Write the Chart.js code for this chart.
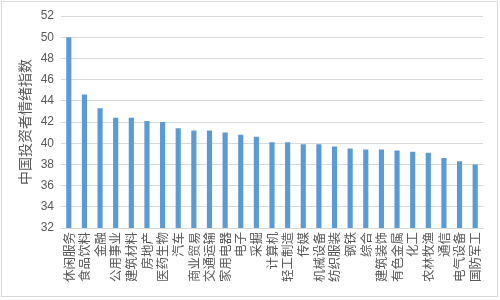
<!DOCTYPE html>
<html>
<head>
<meta charset="utf-8">
<script src="https://cdn.jsdelivr.net/npm/chart.js@4/dist/chart.umd.min.js"></script>
<style>
  html, body { margin: 0; padding: 0; background: #fff; }
  #wrap { width: 500px; height: 300px; position: relative; }
</style>
</head>
<body>
<div id="wrap"><canvas id="c" width="500" height="300"></canvas></div>
<script>
// 行业名称
const industries = [
  '休闲服务', '食品饮料', '金融', '公用事业', '建筑材料', '房地产', '医药生物',
  '汽车', '商业贸易', '交通运输', '家用电器', '电子', '采掘', '计算机',
  '轻工制造', '传媒', '机械设备', '纺织服装', '钢铁', '综合', '建筑装饰',
  '有色金属', '化工', '农林牧渔', '通信', '电气设备', '国防军工'
];
// 中国投资者情绪指数
const sentimentIndex = [
  50.0, 44.6, 43.3, 42.4, 42.4, 42.1, 42.0,
  41.4, 41.2, 41.2, 41.0, 40.8, 40.6, 40.1,
  40.1, 39.9, 39.9, 39.7, 39.5, 39.4, 39.4,
  39.3, 39.2, 39.1, 38.6, 38.3, 38.0
];
// 纵轴刻度范围
const yMin = 32;
const yMax = 52;
const yStep = 2;
const yTitle = '中国投资者情绪指数';

const frame = {
  id: 'frame',
  beforeDraw(chart) {
    const ctx = chart.ctx;
    ctx.save();
    ctx.fillStyle = '#ffffff';
    ctx.fillRect(0, 0, chart.width, chart.height);
    ctx.strokeStyle = '#d9d9d9';
    ctx.lineWidth = 1;
    ctx.strokeRect(1.5, 1.5, 496, 295);
    ctx.restore();
  }
};

new Chart(document.getElementById('c'), {
  type: 'bar',
  data: {
    labels: industries,
    datasets: [{
      data: sentimentIndex,
      backgroundColor: '#5b9bd5',
      borderWidth: 0,
      barPercentage: 0.33,
      categoryPercentage: 1.0
    }]
  },
  options: {
    responsive: false,
    animation: false,
    layout: { padding: { left: 12, top: 16, right: 17, bottom: 0 } },
    plugins: { legend: { display: false }, tooltip: { enabled: false } },
    scales: {
      x: {
        grid: { display: false, drawTicks: false },
        border: { display: true, color: '#d9d9d9', width: 1 },
        ticks: {
          autoSkip: false,
          minRotation: 90,
          maxRotation: 90,
          padding: 4,
          color: '#595959',
          font: { family: '"Noto Sans CJK SC"', size: 12.5 }
        },
        afterFit(scale) { scale.height = 72; }
      },
      y: {
        min: yMin,
        max: yMax,
        grid: { color: '#d9d9d9', drawTicks: false },
        border: { display: false },
        ticks: {
          stepSize: yStep,
          padding: 7,
          color: '#595959',
          font: { family: '"Liberation Sans"', size: 12 }
        },
        title: {
          display: true,
          text: yTitle,
          color: '#595959',
          padding: { top: 4, bottom: 4 },
          font: { family: '"Noto Sans CJK SC"', size: 14 }
        },
        afterFit(scale) { scale.width = 49; }
      }
    }
  },
  plugins: [frame]
});
</script>
</body>
</html>
